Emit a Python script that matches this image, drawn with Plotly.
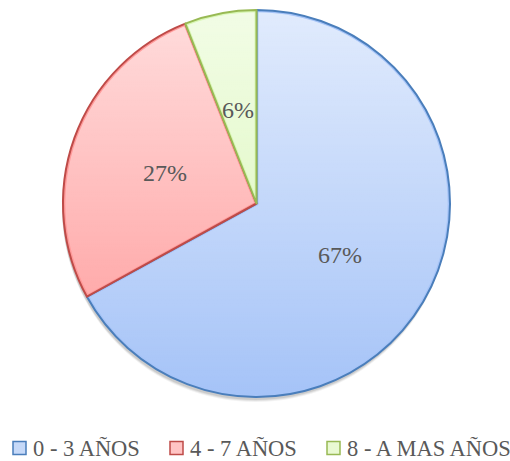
import base64
import math
import plotly.graph_objects as go

# Age ranges and their share of the total
labels = ["0 - 3 AÑOS", "4 - 7 AÑOS", "8 - A MAS AÑOS"]
values = [67, 27, 6]

base_colors = ["#a6c4f8", "#ff9a9a", "#d8f7b4"]
legend_fill = ["#c6d9f8", "#ffc4c4", "#e9f9d2"]
line_colors = ["#4a7ebb", "#be4b48", "#98b954"]

W, H = 510, 461
cx, cy, r = 256.5, 203.5, 193.5  # pie centre / radius in pixels
FONT = "Liberation Serif, DejaVu Serif, serif"
TEXT_COLOR = "#595959"


def px(x):
    return x / W


def py(y):
    return 1 - y / H


fig = go.Figure()

fig.add_trace(go.Pie(
    labels=labels,
    values=values,
    sort=False,
    direction="clockwise",
    rotation=0,
    textinfo="none",
    marker=dict(colors=base_colors, line=dict(color=line_colors, width=2)),
    domain=dict(x=[px(cx - r), px(cx + r)], y=[py(cy + r), py(cy - r)]),
    hoverinfo="label+percent",
    showlegend=False,
))

# slice boundary angles (radians, clockwise from 12 o'clock)
total = sum(values)
bounds = []
cum = 0.0
for v in values:
    bounds.append(cum / total * 2 * math.pi)
    cum += v

# percentage labels at half radius along each slice's middle angle
annotations = []
cum = 0.0
for v in values:
    mid = (cum + v / 2) / total * 2 * math.pi
    cum += v
    lx = cx + 0.5 * r * math.sin(mid)
    ly = cy - 0.5 * r * math.cos(mid) + 2
    annotations.append(dict(
        x=px(lx), y=py(ly), xref="paper", yref="paper",
        text=f"{round(v / total * 100)}%", showarrow=False,
        xanchor="center", yanchor="middle",
        font=dict(family=FONT, size=24, color=TEXT_COLOR),
    ))

# soft drop shadow under the pie
shapes = []
for off, alpha in [(5, 0.05), (4, 0.07), (3, 0.09)]:
    shapes.append(dict(
        type="circle", xref="paper", yref="paper", layer="below",
        x0=px(cx - r - 1), x1=px(cx + r - 1),
        y0=py(cy + r + off), y1=py(cy - r + off),
        line=dict(width=0), fillcolor=f"rgba(0,0,0,{alpha})",
    ))

# legend: swatch + label for each category
legend_box_x = [13, 170, 327]
legend_text_x = [31, 188, 345]
legend_y = 448
for i, lab in enumerate(labels):
    shapes.append(dict(
        type="rect", xref="paper", yref="paper", layer="above",
        x0=px(legend_box_x[i]), x1=px(legend_box_x[i] + 13),
        y0=py(legend_y + 6.5), y1=py(legend_y - 6.5),
        line=dict(color=line_colors[i], width=1.5), fillcolor=legend_fill[i],
    ))
    annotations.append(dict(
        x=px(legend_text_x[i]), y=py(legend_y), xref="paper", yref="paper",
        text=lab, showarrow=False, xanchor="left", yanchor="middle",
        font=dict(family=FONT, size=22.5, color=TEXT_COLOR),
    ))

# vertical light-to-saturated shading over the pie fill,
# masked off along the slice borders so they keep their colour
mask_lines = "".join(
    f'<line x1="50" y1="50" x2="{50 + 50 * math.sin(a):.3f}" y2="{50 - 50 * math.cos(a):.3f}" '
    f'stroke="black" stroke-width="1.0" stroke-linecap="round"/>'
    for a in bounds
)
svg = (
    '<svg xmlns="http://www.w3.org/2000/svg" viewBox="0 0 100 100" preserveAspectRatio="none">'
    '<defs><linearGradient id="g" x1="0" y1="0" x2="0" y2="1">'
    '<stop offset="0" stop-color="#ffffff" stop-opacity="0.66"/>'
    '<stop offset="0.55" stop-color="#ffffff" stop-opacity="0.3"/>'
    '<stop offset="1" stop-color="#ffffff" stop-opacity="0"/>'
    '</linearGradient>'
    '<mask id="m"><rect x="0" y="0" width="100" height="100" fill="white"/>'
    + mask_lines +
    '</mask></defs>'
    '<circle cx="50" cy="50" r="49.4" fill="url(#g)" mask="url(#m)"/></svg>'
)
shade_src = "data:image/svg+xml;base64," + base64.b64encode(svg.encode()).decode()

fig.update_layout(
    width=W, height=H,
    margin=dict(l=0, r=0, t=0, b=0),
    paper_bgcolor="white",
    plot_bgcolor="white",
    shapes=shapes,
    annotations=annotations,
    showlegend=False,
    images=[dict(
        source=shade_src, xref="paper", yref="paper",
        x=px(cx - r), y=py(cy - r), sizex=2 * r / W, sizey=2 * r / H,
        xanchor="left", yanchor="top", sizing="stretch", layer="above",
    )],
)

fig.write_html("out.html")
